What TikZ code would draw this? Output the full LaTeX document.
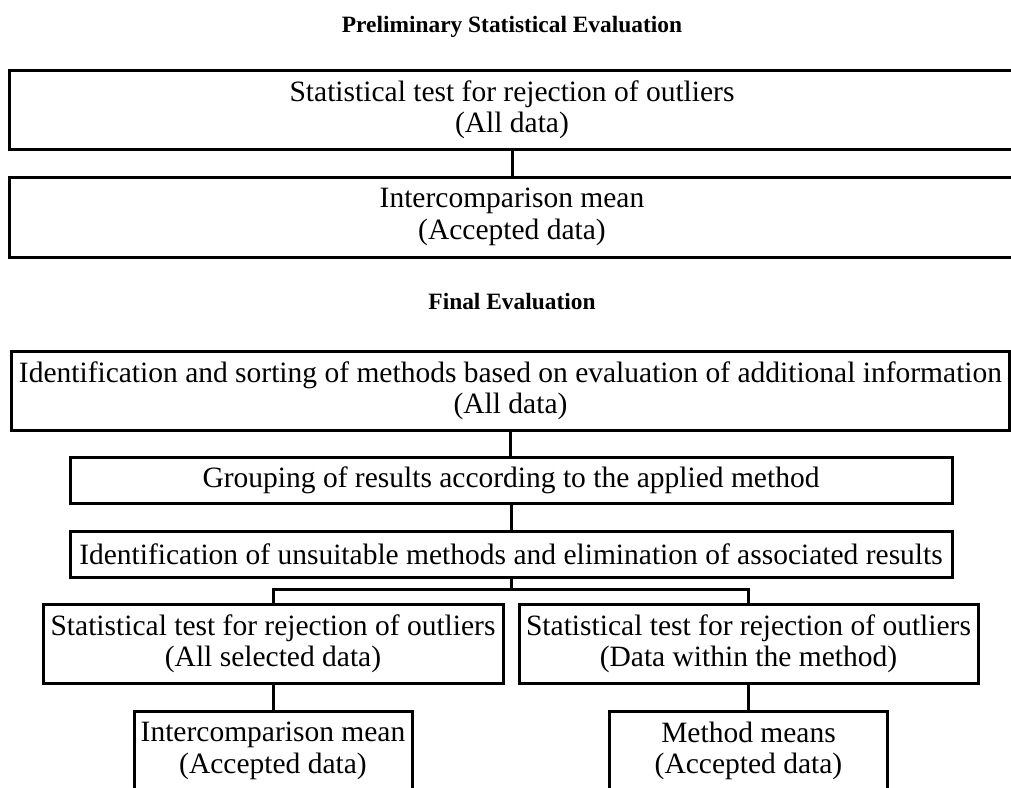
\documentclass[tikz,border=0pt]{standalone}
\usepackage{fontspec}
\setmainfont{Liberation Serif}
\usepackage{tikz}
\usetikzlibrary{positioning, calc}

\begin{document}
\begin{tikzpicture}[x=1pt, y=-1pt,
    evalbox/.style={draw, line width=3pt, rectangle, align=center, inner sep=0pt,
        font=\fontsize{29.5}{31.5}\selectfont},
    heading/.style={font=\fontsize{23.4}{28}\selectfont\bfseries},
    link/.style={line width=3pt}]
\useasboundingbox (0,0) rectangle (1011,787);
% Preliminary evaluation
\node[heading] (t1) at (512,27) {Preliminary Statistical Evaluation};
\node[evalbox, minimum width=1006, minimum height=79] (b1) at (512,110)
    {Statistical test for rejection of outliers\\(All data)};
\node[evalbox, minimum width=1006, minimum height=80] (b2) at (512,217)
    {Intercomparison mean\\(Accepted data)};
\draw[link] (b1.south) -- (b2.north);

% Final evaluation
\node[heading] (t2) at (512,302) {Final Evaluation};
\node[evalbox, minimum width=998, minimum height=79] (b3) at (510.5,390.5)
    {Identification and sorting of methods based on evaluation of additional information\\(All data)};
\node[evalbox, minimum width=882, minimum height=46] (b4) at (511,480)
    {Grouping of results according to the applied method};
\node[evalbox, minimum width=882, minimum height=46] (b5) at (511,554)
    {Identification of unsuitable methods and elimination of associated results};
\coordinate (split) at (511,589);
\node[evalbox, minimum width=460, minimum height=79] (b6) at (273,643.5)
    {Statistical test for rejection of outliers\\(All selected data)};
\node[evalbox, minimum width=459, minimum height=79] (b7) at (748.5,643.5)
    {Statistical test for rejection of outliers\\(Data within the method)};
\node[evalbox, minimum width=278, minimum height=80] (b8) at (273,751)
    {Intercomparison mean\\(Accepted data)};
\node[evalbox, minimum width=278, minimum height=80] (b9) at (748.5,751)
    {Method means\\(Accepted data)};

\draw[link] (b3.south) -- (b3.south|-b4.north);
\draw[link] (b4.south) -- (b5.north);
\draw[link] (b5.south) -- (split);
\draw[link] (split) -| (b6.north);
\draw[link] (split) -| (b7.north);
\draw[link] (b6.south) -- (b8.north);
\draw[link] (b7.south) -- (b9.north);
\end{tikzpicture}
\end{document}
